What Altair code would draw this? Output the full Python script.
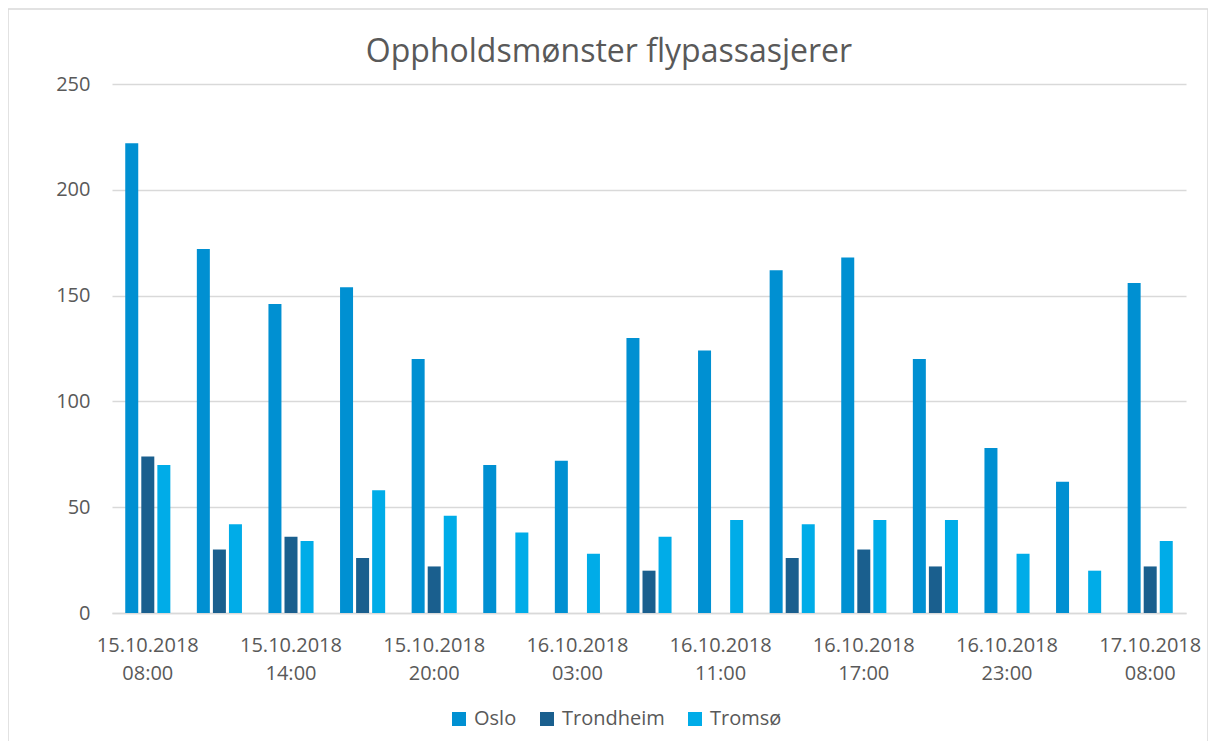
import altair as alt
import pandas as pd

categories = [
    "15.10.2018 08:00", "15.10.2018 11:00", "15.10.2018 14:00", "15.10.2018 17:00",
    "15.10.2018 20:00", "15.10.2018 23:00", "16.10.2018 03:00", "16.10.2018 08:00",
    "16.10.2018 11:00", "16.10.2018 14:00", "16.10.2018 17:00", "16.10.2018 20:00",
    "16.10.2018 23:00", "17.10.2018 03:00", "17.10.2018 08:00",
]
oslo = [222, 172, 146, 154, 120, 70, 72, 130, 124, 162, 168, 120, 78, 62, 156]
trondheim = [74, 30, 36, 26, 22, None, None, 20, None, 26, 30, 22, None, None, 22]
tromso = [70, 42, 34, 58, 46, 38, 28, 36, 44, 42, 44, 44, 28, 20, 34]
series = ["Oslo", "Trondheim", "Tromsø"]
colors = ["#0090D2", "#1A5F8E", "#00ACE8"]
label_ticks = categories[::2]
y_ticks = [0, 50, 100, 150, 200, 250]
title_text = "Oppholdsmønster flypassasjerer"

rows = []
for name, vals in zip(series, [oslo, trondheim, tromso]):
    for c, v in zip(categories, vals):
        if v is not None:
            rows.append({"Tidspunkt": c, "Serie": name, "Antall": v})
df = pd.DataFrame(rows)

FONT = "Open Sans"
GREY = "#595959"
GRID = "#d9d9d9"

bars = alt.Chart(df).mark_bar().encode(
    x=alt.X(
        "Tidspunkt:N", sort=categories,
        scale=alt.Scale(paddingInner=0.37, paddingOuter=0.185),
        axis=alt.Axis(
            values=label_ticks, labelExpr="split(datum.label, ' ')", title=None,
            labelAngle=0, ticks=False, domainColor=GRID, domainWidth=1.5,
            labelFontSize=20, labelColor=GREY, labelLineHeight=28.5, labelPadding=22,
            labelFont=FONT, grid=False,
        ),
    ),
    xOffset=alt.XOffset("Serie:N", sort=series, scale=alt.Scale(paddingInner=0.19, paddingOuter=0)),
    y=alt.Y(
        "Antall:Q", scale=alt.Scale(domain=[0, 250]),
        axis=alt.Axis(
            values=y_ticks, title=None, domain=False, ticks=False, labelPadding=22,
            gridColor=GRID, gridWidth=1.5, labelFontSize=20, labelColor=GREY, labelFont=FONT,
        ),
    ),
    color=alt.Color(
        "Serie:N", sort=series,
        scale=alt.Scale(domain=series, range=colors),
        legend=alt.Legend(
            orient="none", legendX=337, legendY=625, direction="horizontal", title=None,
            symbolType="square", symbolSize=196, symbolStrokeWidth=0, labelFontSize=20,
            labelColor=GREY, labelFont=FONT, columnPadding=20, labelOffset=5,
        ),
    ),
)

frame = alt.Chart(alt.Data(values=[{}])).mark_rect(
    fill="transparent", stroke=GRID, strokeWidth=1.5
).encode(x=alt.value(-104), x2=alt.value(1096), y=alt.value(-75), y2=alt.value(700))

title = alt.Chart(alt.Data(values=[{"t": title_text}])).mark_text(
    fontSize=32, font=FONT, color=GREY, align="center", baseline="alphabetic"
).encode(x=alt.value(497), y=alt.value(-22), text="t:N")

chart = alt.layer(frame, bars, title).properties(
    width=1074, height=529,
    background="white",
    autosize=alt.AutoSizeParams(type="none"),
    padding={"left": 104, "top": 76, "right": 22, "bottom": 128},
).configure_view(stroke="transparent", strokeWidth=0)

chart.save("out.html", embed_options={"renderer": "svg", "actions": False})
